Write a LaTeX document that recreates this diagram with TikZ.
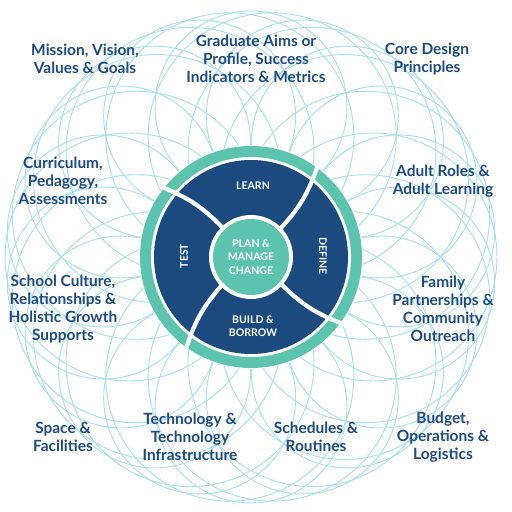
\documentclass[tikz,border=0pt]{standalone}
\usepackage{fontspec}
\setmainfont{Lato}
\usetikzlibrary{positioning, calc}
\definecolor{navy}{HTML}{1D4A80}
\definecolor{wheelblue}{HTML}{1B4A7F}
\definecolor{mint}{HTML}{5CC3AF}
\definecolor{spiroblue}{HTML}{ABDFEC}
\tikzset{
  area/.style={text=navy, font=\bfseries\fontsize{8.8}{10.3}\selectfont, align=center},
  stage/.style={text=white, font=\bfseries\fontsize{6}{7.6}\selectfont, align=center},
  spiro/.style={draw=spiroblue, line width=0.55pt},
  divider/.style={draw=white, line width=2.4pt}
}
\begin{document}
\begin{tikzpicture}[x=0.02cm, y=0.02cm]
    \useasboundingbox (0,0) rectangle (512,512);
    \coordinate (hub) at (251,255);
    \foreach \a in {0,20,...,340} {
        \draw[spiro] (hub) ++(\a:122) circle (124);
    }
    \foreach \a in {10,30,...,350} {
        \draw[spiro] (hub) ++(\a:150) circle (96);
    }
    \fill[white] (hub) circle (112);
    \fill[mint] (hub) circle (111);
    \fill[white] (hub) circle (100);
    \fill[wheelblue] (hub) circle (97);
    \fill[white] (hub) circle (42);
    \fill[mint] (hub) circle (38);
    \foreach \a/\b in {134/142, 44/54, -42/-36, -136/-125} {
        \draw[divider] ($(hub)+(\a:41)$) to[bend right=12] ($(hub)+(\b:114)$);
    }
    \node[stage] (plan) at (hub) {PLAN \&\\MANAGE\\CHANGE};
    \node[stage] (learn) at (253,326) {LEARN};
    \node[stage, rotate=-90] (define) at (323,256) {DEFINE};
    \node[stage, rotate=90] (test) at (184,256) {TEST};
    \node[stage] (build) at (253,186) {BUILD \&\\BORROW};
    \node[area] (mission) at (85,453) {Mission, Vision,\\Values \& Goals};
    \node[area] (graduate) at (256,453) {Graduate Aims or\\Profile, Success\\Indicators \& Metrics};
    \node[area] (core) at (427,453) {Core Design\\Principles};
    \node[area] (curriculum) at (63,331) {Curriculum,\\Pedagogy,\\Assessments};
    \node[area] (adult) at (443,331) {Adult Roles \&\\Adult Learning};
    \node[area] (culture) at (63,203) {School Culture,\\Relationships \&\\Holistic Growth\\Supports};
    \node[area] (family) at (443,203) {Family\\Partnerships \&\\Community\\Outreach};
    \node[area] (space) at (63,75) {Space \&\\Facilities};
    \node[area] (tech) at (190,75) {Technology \&\\Technology\\Infrastructure};
    \node[area] (schedules) at (316,75) {Schedules \&\\Routines};
    \node[area] (budget) at (443,75) {Budget,\\Operations \&\\Logistics};
\end{tikzpicture}
\end{document}
